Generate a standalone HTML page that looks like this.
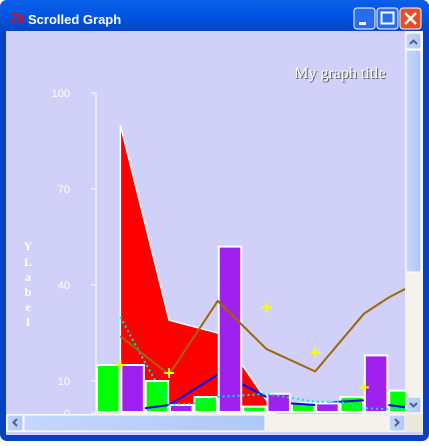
<!DOCTYPE html>
<html><head><meta charset="utf-8"><style>
body{margin:0;width:429px;height:441px;overflow:hidden;background:#fff;font-family:"Liberation Sans",sans-serif}
</style></head><body>
<svg width="429" height="441" viewBox="0 0 429 441" xmlns="http://www.w3.org/2000/svg">
<defs><linearGradient id="tb" x1="0" y1="0" x2="0" y2="1"><stop offset="0" stop-color="#0a5fe8"/><stop offset="0.5" stop-color="#0054e3"/><stop offset="1" stop-color="#0046c8"/></linearGradient>
<linearGradient id="sb" x1="0" y1="0" x2="1" y2="0"><stop offset="0" stop-color="#c4d6fc"/><stop offset="1" stop-color="#b0c8f6"/></linearGradient></defs>
<rect x="0" y="0" width="429" height="441" rx="7" fill="#0842c4"/>
<rect x="0" y="0" width="429" height="31" rx="7" fill="url(#tb)"/>
<text x="10" y="23" font-size="13" font-weight="bold" fill="#f00" font-style="italic">7k</text>
<text x="28" y="24" font-size="13" font-weight="bold" fill="#fff">Scrolled Graph</text>
<g><rect x="354" y="8" width="21" height="21" rx="3" fill="#2a6cf0" stroke="#fff"/><rect x="359" y="22" width="7" height="3" fill="#fff"/></g>
<g><rect x="377" y="8" width="21" height="21" rx="3" fill="#2a6cf0" stroke="#fff"/><rect x="381.5" y="12.5" width="12" height="11" fill="none" stroke="#fff" stroke-width="2"/></g>
<g><rect x="400" y="8" width="21" height="21" rx="3" fill="#e0512a" stroke="#fff"/><path d="M405 13l11 11M416 13l-11 11" stroke="#fff" stroke-width="2.5"/></g>
<rect x="6" y="31" width="417" height="404" fill="#d0d0f8"/>
<g id="chart"></g>
<text x="341" y="79" font-family="Liberation Serif,serif" font-size="16" fill="#555" text-anchor="middle">My graph title</text>
<text x="340" y="78" font-family="Liberation Serif,serif" font-size="16" fill="#fff" text-anchor="middle">My graph title</text>
<g font-family="Liberation Serif,serif" font-weight="bold" font-size="12" fill="#fff" text-anchor="middle">
<text x="28" y="250">Y</text><text x="28" y="266">L</text><text x="28" y="281">a</text><text x="28" y="296">b</text><text x="28" y="311">e</text><text x="28" y="326">l</text></g>
<g><rect x="405" y="31" width="18" height="383" fill="#f4f2ea"/>
<rect x="406" y="33" width="15" height="16" rx="2" fill="url(#sb)" stroke="#fff"/><path d="M410 44l3.5-3.5 3.5 3.5" stroke="#4d6185" stroke-width="2" fill="none"/>
<rect x="406" y="50" width="15" height="222" rx="2" fill="url(#sb)" stroke="#fff"/>
<rect x="406" y="397" width="15" height="16" rx="2" fill="url(#sb)" stroke="#fff"/><path d="M410 403l3.5 3.5 3.5-3.5" stroke="#4d6185" stroke-width="2" fill="none"/></g>
<g><rect x="6" y="414" width="399" height="18" fill="#f4f2ea"/>
<rect x="7" y="415" width="16" height="16" rx="2" fill="url(#sb)" stroke="#fff"/><path d="M17 419l-3.5 3.5 3.5 3.5" stroke="#4d6185" stroke-width="2" fill="none"/>
<rect x="24" y="415" width="241" height="16" rx="2" fill="url(#sb)" stroke="#fff"/>
<rect x="389" y="415" width="16" height="16" rx="2" fill="url(#sb)" stroke="#fff"/><path d="M395 419l3.5 3.5-3.5 3.5" stroke="#4d6185" stroke-width="2" fill="none"/></g>
<rect x="405" y="414" width="18" height="18" fill="#ece9d8"/>
</svg>
<script>
const barVals=[15,15,10,2.5,5,52,2,6,3,3,5,18,7];
const areaX=[1,3,5,6,7,7.6,11];
const areaVals=[90,29,25,15,4,-3,-3];
const brownVals=[null,24,null,12,null,35,null,20,null,13,null,31,36,40];
const blueVals=[null,null,1.5,2.5,null,12,9,5,3,2.5,3.5,4,2.5,1.5];
const cyanVals=[null,30,16,2.5,3,5,5.5,6,null,3.5,3.5,1.5,1.2,1];
const plusX=[1,3,7,9,11];
const plusVals=[15,12.5,33,19,8];
const yTicks=[0,10,40,70,100];
const NS="http://www.w3.org/2000/svg";
const X=i=>96+i*24.35, Y=v=>413-v*3.2;
const g=document.getElementById('chart');
function mk(t,a){const e=document.createElementNS(NS,t);for(const k in a)e.setAttribute(k,a[k]);g.appendChild(e);return e;}
const clip=document.createElementNS(NS,'clipPath');clip.id='pc';const cr=document.createElementNS(NS,'rect');
cr.setAttribute('x',6);cr.setAttribute('y',31);cr.setAttribute('width',399);cr.setAttribute('height',383);clip.appendChild(cr);g.appendChild(clip);
let ax=mk('line',{x1:96,y1:Y(100),x2:96,y2:Y(0),stroke:'#fff'});

yTicks.forEach(t=>{let l=mk('line',{x1:91,y1:Y(t),x2:96,y2:Y(t),stroke:'#fff'});

let tx=mk('text',{x:70,y:Y(t)+4,fill:'#fff','font-size':11,'text-anchor':'end'});tx.textContent=t;
});
const pg=document.createElementNS(NS,'g');pg.setAttribute('clip-path','url(#pc)');g.appendChild(pg);
function mp(t,a){const e=document.createElementNS(NS,t);for(const k in a)e.setAttribute(k,a[k]);pg.appendChild(e);return e;}
let ap=areaVals.map((v,k)=>[X(areaX[k]),Y(v)]);
let ad='M'+ap[0][0]+','+Y(0)+' '+ap.map(p=>'L'+p[0]+','+p[1]).join(' ')+' L'+ap[ap.length-1][0]+','+Y(0)+'Z';
let area=mp('path',{d:ad,fill:'#f00',stroke:'#fff','stroke-width':1.5});

function bar(v,i){let r=mp('rect',{x:X(i)+1,y:Y(v),width:22.5,height:Y(0)-Y(v)-1,fill:i%2?'#a020f0':'#00ff00',stroke:'#fff','stroke-width':2});
}
function line(vals,attrs,name){let d='';let pen=false;vals.forEach((v,i)=>{if(v===null)return;d+=(pen?'L':'M')+X(i)+','+Y(v)+' ';pen=true;});
let p=mp('path',Object.assign({d:d,fill:'none'},attrs));}
barVals.forEach((v,i)=>{if(i%2===0)bar(v,i);});
line(blueVals,{stroke:'#0000ff','stroke-width':2},'blue-line-series');
barVals.forEach((v,i)=>{if(i%2===1)bar(v,i);});
line(cyanVals,{stroke:'#00e5ee','stroke-width':2,'stroke-dasharray':'2,3'},'cyan-dotted-series');
line(brownVals,{stroke:'#a0660a','stroke-width':2},'brown-line-series');
plusX.forEach((xi,k)=>{let x=X(xi),y=Y(plusVals[k]);let p=mp('path',{d:`M${x-5},${y}h10M${x},${y-5}v10`,stroke:'#ffff00','stroke-width':2});
});
let bl=mp('line',{x1:96,y1:Y(0),x2:405,y2:Y(0),stroke:'#fff'});

</script>
</body></html>
